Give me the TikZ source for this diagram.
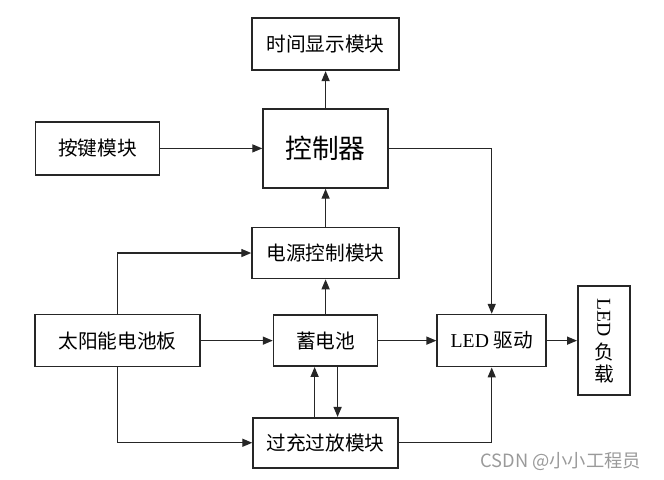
\documentclass[tikz,border=0pt]{standalone}
\usepackage{fontspec}
\setmainfont{Liberation Serif}
\newfontfamily\cjk{Noto Sans CJK SC}
\usepackage{graphicx}
\usepackage{tikz}
\usetikzlibrary{arrows.meta,positioning}
\usepackage{xcolor}
\definecolor{ln}{HTML}{262626}
\definecolor{wm}{HTML}{9A9A9A}

\begin{document}
\begin{tikzpicture}[node distance=9mm,
   bx/.style={draw=ln,line width=1.15pt,inner sep=0pt,align=center,
              font=\fontsize{14}{16}\selectfont\cjk},
   ar/.style={draw=ln,line width=1pt,-{Triangle[length=2.5mm,width=2mm]}}]
  \useasboundingbox (0,0) rectangle (166mm,-119.75mm);
  \node[bx,minimum width=31.25mm,minimum height=19.75mm,
        font=\fontsize{19}{21}\selectfont\cjk] (ctl) at (81.4mm,-37.1mm) {控制器};
  \node[bx,minimum width=36.75mm,minimum height=13mm,above=9.25mm of ctl] (disp) {时间显示模块};
  \node[bx,minimum width=31mm,minimum height=13.25mm,left=25.5mm of ctl] (key) {按键模块};
  \node[bx,minimum width=36.75mm,minimum height=12.75mm,below=9.5mm of ctl] (pwr) {电源控制模块};
  \node[bx,minimum width=26mm,minimum height=12.75mm,below=8.75mm of pwr] (bat) {蓄电池};
  \node[bx,minimum width=36.25mm,minimum height=12.5mm,below=12.5mm of bat] (ovp) {过充过放模块};
  \node[bx,minimum width=41.25mm,minimum height=13mm,left=18mm of bat] (solar) {太阳能电池板};
  \node[bx,minimum width=27.25mm,minimum height=13mm,right=14.5mm of bat] (drv) {{\rmfamily LED} 驱动};
  \node[bx,minimum width=13mm,minimum height=27.25mm,right=7.5mm of drv] (load)
       {\rotatebox{-90}{\rmfamily LED}\\[1.2mm]负\\载};
  \node[font=\fontsize{13}{15}\selectfont\cjk,text=wm,anchor=east] (mark) at (161.5mm,-115.5mm) {CSDN @小小工程员};
  % connectors
  \draw[ar] (key.east) -- (key.east -| ctl.west);
  \draw[ar] (ctl.north) -- (ctl.north |- disp.south);
  \draw[ar] (pwr.north) -- (pwr.north |- ctl.south);
  \draw[ar] (bat.north) -- (bat.north |- pwr.south);
  \draw[ar] (solar.east) -- (solar.east -| bat.west);
  \draw[ar] (solar.north) |- (pwr.west);
  \draw[ar] (solar.south) |- (ovp.west);
  \draw[ar] (bat.east) -- (bat.east -| drv.west);
  \draw[ar] (drv.east) -- (drv.east -| load.west);
  \draw[ar] (ctl.east) -| (drv.north);
  \draw[ar] (ovp.east) -| (drv.south);
  \draw[ar] ([xshift=-2.75mm]bat.south |- ovp.north) -- ([xshift=-2.75mm]bat.south);
  \draw[ar] ([xshift=3mm]bat.south) -- ([xshift=3mm]bat.south |- ovp.north);
\end{tikzpicture}
\end{document}
